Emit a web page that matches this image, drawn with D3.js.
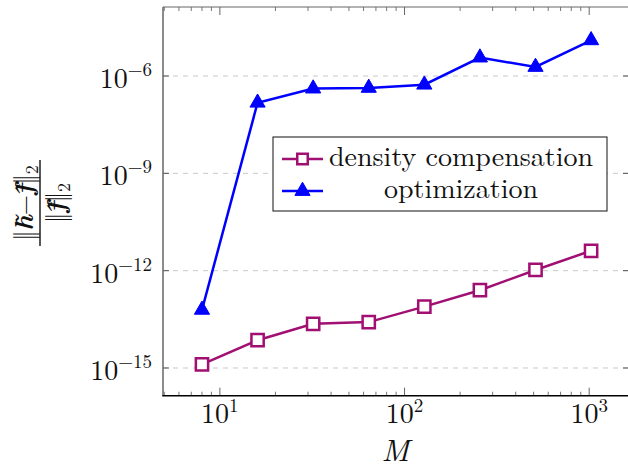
<!DOCTYPE html>
<html>
<head>
<meta charset="utf-8">
<script src="https://cdn.jsdelivr.net/npm/d3@7/dist/d3.min.js"></script>
<style>
  body { margin: 0; background: #fff; }
</style>
</head>
<body>
<div id="chart"></div>
<script>
// data
var M = [8, 16, 32, 64, 128, 256, 512, 1024];
var density = [1.29e-15, 7.2e-15, 2.3e-14, 2.6e-14, 7.8e-14, 2.5e-13, 1.05e-12, 4.1e-12];
var optim = [6.2e-14, 1.5e-7, 4.1e-7, 4.3e-7, 5.4e-7, 3.7e-6, 1.9e-6, 1.26e-5];
var xTicks = [10, 100, 1000];
var xTickExp = ["1", "2", "3"];
var yTicks = [1e-15, 1e-12, 1e-9, 1e-6];
var yTickExp = ["\u221215", "\u221212", "\u22129", "\u22126"];
var seriesNames = ["density compensation", "optimization"];

(function() {
var W = 628, H = 469;
var pLeft = 163, pRight = 630, pTop = 7, pBottom = 395.7;
var purple = "#a10f72", blue = "#0000ff";
var serif = "'Latin Modern Roman', 'Liberation Serif', serif";

var svg = d3.select("#chart").append("svg")
    .attr("width", W)
    .attr("height", H)
    .style("font-family", serif);

var x = d3.scaleLog().domain([Math.pow(10, 0.692), Math.pow(10, 3.221)]).range([pLeft, pRight]);
var y = d3.scaleLog().domain([Math.pow(10, -15.854), Math.pow(10, -3.873)]).range([pBottom, pTop]);

// grid
svg.selectAll(".grid")
    .data(yTicks)
    .enter()
    .append("line")
    .attr("class", "grid")
    .attr("x1", pLeft).attr("x2", pRight)
    .attr("y1", function(d) { return y(d); })
    .attr("y2", function(d) { return y(d); })
    .attr("stroke", "#c8c8c8")
    .attr("stroke-width", 1)
    .attr("stroke-dasharray", "5,5");

// y ticks inside, both sides
yTicks.forEach(function(t) {
    svg.append("line").attr("x1", pLeft).attr("x2", pLeft + 6)
	.attr("y1", y(t)).attr("y2", y(t)).attr("stroke", "#555");
    svg.append("line").attr("x1", pRight - 7).attr("x2", pRight)
	.attr("y1", y(t)).attr("y2", y(t)).attr("stroke", "#555");
});

// x ticks, major and minor, bottom and top
var minor = [];
for (var k = 0; k <= 3; k++) {
    for (var m = 2; m <= 9; m++) {
	var v = m * Math.pow(10, k);
	if (x(v) > pLeft && x(v) < pRight) minor.push(v);
    }
}
minor.forEach(function(v) {
    svg.append("line").attr("x1", x(v)).attr("x2", x(v))
	.attr("y1", pBottom).attr("y2", pBottom - 4).attr("stroke", "#777");
    svg.append("line").attr("x1", x(v)).attr("x2", x(v))
	.attr("y1", pTop).attr("y2", pTop + 4).attr("stroke", "#777");
});
xTicks.forEach(function(v) {
    svg.append("line").attr("x1", x(v)).attr("x2", x(v))
	.attr("y1", pBottom).attr("y2", pBottom - 8).attr("stroke", "#666");
    svg.append("line").attr("x1", x(v)).attr("x2", x(v))
	.attr("y1", pTop).attr("y2", pTop + 8).attr("stroke", "#666");
});

// frame
svg.append("line").attr("x1", pLeft).attr("x2", pRight).attr("y1", pTop).attr("y2", pTop)
    .attr("stroke", "#666").attr("stroke-width", 1.2);
svg.append("line").attr("x1", pLeft).attr("x2", pLeft).attr("y1", pTop).attr("y2", pBottom)
    .attr("stroke", "#666").attr("stroke-width", 1.5);
svg.append("line").attr("x1", pLeft - 0.7).attr("x2", pRight).attr("y1", pBottom).attr("y2", pBottom)
    .attr("stroke", "#000").attr("stroke-width", 1.5);

// tick labels
xTicks.forEach(function(v, i) {
    var t = svg.append("text")
	.attr("x", x(v))
	.attr("y", 423)
	.attr("text-anchor", "middle")
	.attr("fill", "#111")
	.style("font-size", "28px");
    t.append("tspan").text("10");
    t.append("tspan").attr("dy", -11).style("font-size", "19px").text(xTickExp[i]);
});
yTicks.forEach(function(v, i) {
    var t = svg.append("text")
	.attr("x", 152)
	.attr("y", y(v) + 12)
	.attr("text-anchor", "end")
	.attr("fill", "#111")
	.style("font-size", "28px");
    t.append("tspan").text("10");
    t.append("tspan").attr("dy", -12).style("font-size", "19px").text(yTickExp[i]);
});

// axis labels
svg.append("text")
    .attr("x", (pLeft + pRight) / 2 - 1)
    .attr("y", 461)
    .attr("text-anchor", "middle")
    .attr("fill", "#111")
    .style("font-size", "31px")
    .style("font-style", "italic")
    .text("M");

var yl = svg.append("g").attr("transform", "translate(40,203) rotate(-90)");
yl.append("line").attr("x1", -43).attr("x2", 43).attr("y1", 0).attr("y2", 0)
    .attr("stroke", "#111").attr("stroke-width", 1.4);
var num = yl.append("text").attr("x", 0).attr("y", -7).attr("text-anchor", "middle")
    .attr("fill", "#111")
    .style("font-size", "26px");
num.append("tspan").text("\u2016");
num.append("tspan").style("font-weight", "bold").style("font-style", "italic").text("h\u0303");
num.append("tspan").text("\u2212");
num.append("tspan").style("font-weight", "bold").style("font-style", "italic").text("f\u0302");
num.append("tspan").text("\u2016");
num.append("tspan").attr("dy", 5).style("font-size", "18px").text("2");
var den = yl.append("text").attr("x", 0).attr("y", 25).attr("text-anchor", "middle")
    .attr("fill", "#111")
    .style("font-size", "26px");
den.append("tspan").text("\u2016");
den.append("tspan").style("font-weight", "bold").style("font-style", "italic").text("f\u0302");
den.append("tspan").text("\u2016");
den.append("tspan").attr("dy", 5).style("font-size", "18px").text("2");

// series
var line = d3.line()
    .x(function(d) { return x(d[0]); })
    .y(function(d) { return y(d[1]); });

var dData = M.map(function(m, i) { return [m, density[i]]; });
var oData = M.map(function(m, i) { return [m, optim[i]]; });

svg.append("path").datum(dData).attr("d", line)
    .attr("fill", "none").attr("stroke", purple).attr("stroke-width", 2.5);
svg.selectAll(".sq").data(dData).enter()
    .append("path").attr("class", "sq")
    .attr("transform", function(d) { return "translate(" + x(d[0]) + "," + y(d[1]) + ")"; })
    .attr("d", d3.symbol().type(d3.symbolSquare).size(150))
    .attr("fill", "#fff").attr("stroke", purple).attr("stroke-width", 2.5);

svg.append("path").datum(oData).attr("d", line)
    .attr("fill", "none").attr("stroke", blue).attr("stroke-width", 2.5);
svg.selectAll(".tri").data(oData).enter()
    .append("path").attr("class", "tri")
    .attr("transform", function(d) { return "translate(" + x(d[0]) + "," + y(d[1]) + ")"; })
    .attr("d", d3.symbol().type(d3.symbolTriangle).size(100))
    .attr("fill", blue).attr("stroke", blue).attr("stroke-width", 1);

// legend
var lg = svg.append("g");
lg.append("rect").attr("x", 273).attr("y", 137).attr("width", 334).attr("height", 74)
    .attr("fill", "#fff").attr("stroke", "#111").attr("stroke-width", 1);
var rowsY = [159, 191];
var colors = [purple, blue];
seriesNames.forEach(function(name, i) {
    lg.append("line").attr("x1", 282).attr("x2", 323).attr("y1", rowsY[i]).attr("y2", rowsY[i])
	.attr("stroke", colors[i]).attr("stroke-width", 2.5);
    var mk = lg.append("path")
	.attr("transform", "translate(302.5," + rowsY[i] + ")");
    if (i == 0) {
	mk.attr("d", d3.symbol().type(d3.symbolSquare).size(110))
	    .attr("fill", "#fff").attr("stroke", purple).attr("stroke-width", 2.5);
    } else {
	mk.attr("d", d3.symbol().type(d3.symbolTriangle).size(100))
	    .attr("fill", blue).attr("stroke", blue).attr("stroke-width", 1);
    }
    lg.append("text")
	.attr("x", 461)
	.attr("y", rowsY[i] + 7)
	.attr("text-anchor", "middle")
	.attr("fill", "#111")
	.style("font-size", "28px")
	.text(name);
});
})();
</script>
</body>
</html>
